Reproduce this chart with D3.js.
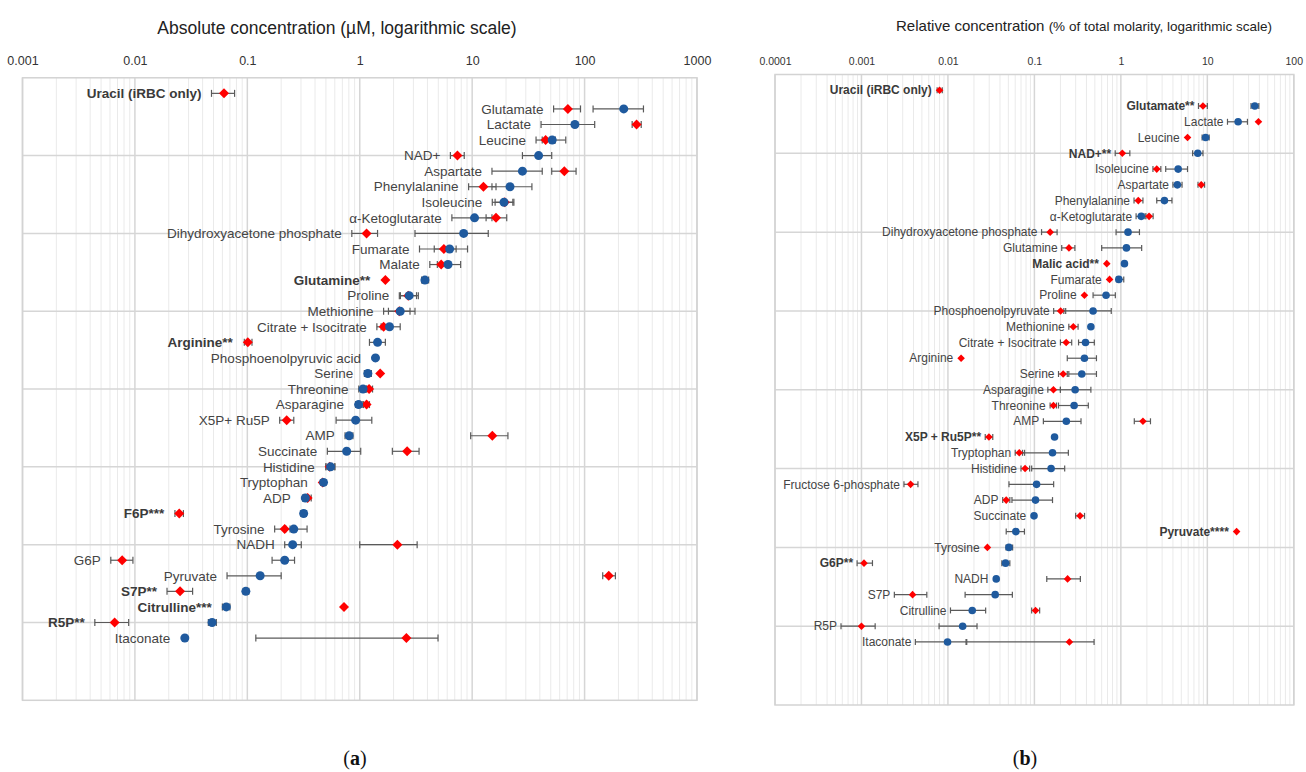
<!DOCTYPE html>
<html><head><meta charset="utf-8">
<script src="https://cdn.jsdelivr.net/npm/d3@7"></script>
<style>body{margin:0;background:#fff}svg{display:block}</style>
</head><body>
<svg id="c" width="1306" height="772"></svg>
<script>
// ---------- Panel (a): absolute concentration (µM) ----------
const aLabels = ["Uracil (iRBC only)","Glutamate","Lactate","Leucine","NAD+","Aspartate","Phenylalanine","Isoleucine","α-Ketoglutarate","Dihydroxyacetone phosphate","Fumarate","Malate","Glutamine**","Proline","Methionine","Citrate + Isocitrate","Arginine**","Phosphoenolpyruvic acid","Serine","Threonine","Asparagine","X5P+ Ru5P","AMP","Succinate","Histidine","Tryptophan","ADP","F6P***","Tyrosine","NADH","G6P","Pyruvate","S7P**","Citrulline***","R5P**","Itaconate"];
const aBold = ["Uracil (iRBC only)","Glutamine**","Arginine**","F6P***","S7P**","Citrulline***","R5P**"];
const aRed   = [0.062,71,290,45,7.4,66,12.6,19.5,16.3,1.15,5.6,5.3,1.69,2.7,2.25,1.63,0.101,null,1.52,1.21,1.15,0.224,15.1,2.64,0.54,0.468,0.344,0.0248,0.215,2.16,0.0077,164,0.0252,0.724,0.0066,2.6];
const aRedLo = [0.048,53,265,37,6.4,51,9.3,16,13.3,0.85,3.4,4.2,null,2.3,1.63,1.42,0.094,null,null,1.14,1.08,0.194,9.7,1.95,0.5,null,0.32,0.0227,0.175,1.0,0.0061,145,0.0193,null,0.0044,0.119];
const aRedHi = [0.077,92,319,55,8.5,84,16.3,23,20.3,1.44,7.2,6.4,null,3.2,2.8,1.85,0.11,null,null,1.3,1.22,0.259,20.8,3.37,0.6,null,0.37,0.027,0.24,3.24,0.0096,188,0.0326,null,0.0088,4.97];
const aBlue   = [null,223,82,51.5,39,28,21.7,19.2,10.5,8.4,6.3,6.1,3.8,2.75,2.29,1.84,1.44,1.38,1.18,1.07,0.977,0.92,0.805,0.765,0.55,0.476,0.328,0.317,0.259,0.253,0.215,0.13,0.097,0.065,0.0486,0.0278];
const aBlueLo = [null,119,41,42,28,15,15,15.1,6.6,3.1,4.6,4.9,3.55,2.25,1.8,1.55,1.22,1.33,1.1,0.98,0.92,0.616,0.74,0.515,0.5,0.45,0.31,0.3,0.22,0.215,0.166,0.066,0.092,0.06,0.045,null];
const aBlueHi = [null,334,123,68,51,42,34,23.5,15,13.9,9.1,7.9,4.1,3.32,3.1,2.29,1.69,1.43,1.27,1.15,1.05,1.28,0.87,1.02,0.6,0.5,0.35,0.335,0.34,0.302,0.263,0.2,0.103,0.07,0.053,null];
const aTicks = [0.001,0.01,0.1,1,10,100,1000];
const aTickLabels = ["0.001","0.01","0.1","1","10","100","1000"];

// ---------- Panel (b): relative concentration (% of total molarity) ----------
const bLabels = ["Uracil (iRBC only)","Glutamate**","Lactate","Leucine","NAD+**","Isoleucine","Aspartate","Phenylalanine","α-Ketoglutarate","Dihydroxyacetone phosphate","Glutamine","Malic acid**","Fumarate","Proline","Phosphoenolpyruvate","Methionine","Citrate + Isocitrate","Arginine","Serine","Asparagine","Threonine","AMP","X5P + Ru5P**","Tryptophan","Histidine","Fructose 6-phosphate","ADP","Succinate","Pyruvate****","Tyrosine","G6P**","NADH","S7P","Citrulline","R5P","Itaconate"];
const bBold = ["Uracil (iRBC only)","Glutamate**","NAD+**","Malic acid**","X5P + Ru5P**","Pyruvate****","G6P**"];
const bLabelOnRed = ["Pyruvate****"];
const bRed   = [0.008,8.9,39,5.9,1.04,2.6,8.5,1.59,2.12,0.152,0.251,0.687,0.74,0.379,0.201,0.282,0.233,0.0142,0.215,0.166,0.166,1.8,0.0298,0.0668,0.078,0.0037,0.0472,0.337,21.8,0.0286,0.00107,0.242,0.0039,0.103,0.001,0.254];
const bRedLo = [0.0075,7.9,null,null,0.86,2.35,7.8,1.42,1.9,0.121,0.207,null,null,null,0.167,0.25,0.2,null,0.19,0.143,0.152,1.43,0.027,0.06,0.07,0.0031,0.043,0.3,null,null,0.00089,0.139,0.0024,0.093,0.00058,0.0165];
const bRedHi = [0.0086,10,null,null,1.27,2.9,9.3,1.8,2.36,0.183,0.294,null,null,null,0.23,0.32,0.27,null,0.24,0.2,0.18,2.2,0.033,0.077,0.088,0.0045,0.052,0.38,null,null,0.00134,0.34,0.0057,0.115,0.00144,0.49];
const bBlue   = [null,35.4,22.7,9.55,7.75,4.6,4.5,3.19,1.72,1.21,1.16,1.1,0.947,0.674,0.477,0.45,0.39,0.379,0.353,0.296,0.288,0.234,0.171,0.162,0.156,0.106,0.103,0.099,0.061,0.0508,0.0464,0.0362,0.0352,0.0191,0.0148,0.0099];
const bBlueLo = [null,32,17.1,8.7,6.76,3.3,4.0,2.6,1.5,0.88,0.6,null,0.89,0.477,0.219,null,0.324,0.24,0.25,0.2,0.19,0.127,null,0.073,0.093,0.0508,0.055,null,0.0472,0.047,0.042,null,0.0158,0.0107,0.0079,0.0042];
const bBlueHi = [null,39.4,29.1,10.5,8.9,5.9,5.1,3.9,1.95,1.64,1.74,null,1.08,0.863,0.774,null,0.493,0.522,0.522,0.45,0.42,0.346,null,0.247,0.224,0.167,0.162,null,0.0767,0.056,0.052,null,0.0556,0.0273,0.0217,0.0162];
const bTicks = [0.0001,0.001,0.01,0.1,1,10,100];
const bTickLabels = ["0.0001","0.001","0.01","0.1","1","10","100"];

const RED = "#ff0000", BLUE = "#1f5a9e", ERR = "#5a5a5a", TXT = "#444";
const svg = d3.select("#c");

function drawPanel(o) {
  const x = d3.scaleLog().domain(o.domain).range(o.xr);
  const y = d3.scaleLinear().domain([0, 40]).range(o.yr);
  const g = svg.append("g");
  const top = y(0), bot = y(40);
  const minors = [];
  for (let e = Math.log10(o.domain[0]); e < Math.log10(o.domain[1]) - 1e-9; e++)
    for (let m = 2; m <= 9; m++) minors.push(m * Math.pow(10, Math.round(e)));
  g.selectAll(".mn").data(minors).join("line")
    .attr("x1", d => x(d)).attr("x2", d => x(d)).attr("y1", top).attr("y2", bot)
    .attr("stroke", "#eaeaea").attr("stroke-width", 1);
  g.selectAll(".mj").data(o.ticks).join("line")
    .attr("x1", d => x(d)).attr("x2", d => x(d)).attr("y1", top).attr("y2", bot)
    .attr("stroke", "#d6d6d6").attr("stroke-width", 1.5);
  g.selectAll(".hz").data([5,10,15,20,25,30,35]).join("line")
    .attr("x1", o.xr[0]).attr("x2", o.xr[1]).attr("y1", d => y(d)).attr("y2", d => y(d))
    .attr("stroke", "#d6d6d6").attr("stroke-width", 1.5);
  g.append("rect").attr("x", o.xr[0]).attr("y", top).attr("width", o.xr[1]-o.xr[0]).attr("height", bot-top)
    .attr("fill", "none").attr("stroke", "#d3d3d3").attr("stroke-width", 1.5);

  const ax = g.append("g").attr("transform", `translate(0,${o.tickY})`)
    .call(d3.axisTop(x).tickValues(o.ticks).tickFormat((d,i)=>o.tickLabels[i]).tickSize(0).tickPadding(0));
  ax.select(".domain").remove();
  ax.selectAll("text").attr("font-family","Liberation Sans, Arial, sans-serif").attr("font-size", o.tickFs).attr("fill","#333");

  const rows = o.labels.map((lab, i) => ({lab, i, r:o.red[i], rl:o.redLo[i], rh:o.redHi[i], b:o.blue[i], bl:o.blueLo[i], bh:o.blueHi[i]}));
  const errs = [];
  rows.forEach(d => {
    if (d.rl != null) errs.push({lo:d.rl, hi:d.rh, i:d.i});
    if (d.bl != null) errs.push({lo:d.bl, hi:d.bh, i:d.i});
  });
  const eg = g.append("g").attr("stroke", ERR).attr("stroke-width", 1.2);
  errs.forEach(e => {
    const yy = y(e.i + 1);
    eg.append("line").attr("x1", x(e.lo)).attr("x2", x(e.hi)).attr("y1", yy).attr("y2", yy);
    eg.append("line").attr("x1", x(e.lo)).attr("x2", x(e.lo)).attr("y1", yy-o.cap).attr("y2", yy+o.cap);
    eg.append("line").attr("x1", x(e.hi)).attr("x2", x(e.hi)).attr("y1", yy-o.cap).attr("y2", yy+o.cap);
  });
  const dm = o.dia;
  g.selectAll(".red").data(rows.filter(d => d.r != null)).join("path")
    .attr("d", d => { const cx = x(d.r), cy = y(d.i+1); return `M${cx},${cy-dm}L${cx+dm},${cy}L${cx},${cy+dm}L${cx-dm},${cy}Z`; })
    .attr("fill", RED);
  g.selectAll(".blue").data(rows.filter(d => d.b != null)).join("circle")
    .attr("cx", d => x(d.b)).attr("cy", d => y(d.i+1)).attr("r", o.rad).attr("fill", BLUE);

  g.selectAll(".lab").data(rows).join("text")
    .attr("x", d => {
      let cands = [];
      if (o.onRed && o.onRed.includes(d.lab)) {
        cands.push(x(d.r) - dm); if (d.rl != null) cands.push(x(d.rl));
      } else {
        if (d.r != null) { cands.push(x(d.r) - dm); if (d.rl != null) cands.push(x(d.rl)); }
        if (d.b != null) { cands.push(x(d.b) - o.rad); if (d.bl != null) cands.push(x(d.bl)); }
      }
      return d3.min(cands) - o.gap;
    })
    .attr("y", d => y(d.i+1)).attr("dy", "0.35em")
    .attr("text-anchor", "end")
    .attr("font-family", "Liberation Sans, Arial, sans-serif")
    .attr("font-size", o.fs)
    .attr("font-weight", d => o.bold.includes(d.lab) ? "bold" : "normal")
    .attr("fill", d => o.bold.includes(d.lab) ? "#3a3a3a" : TXT)
    .text(d => d.lab);
}

drawPanel({domain:[0.001,1000], xr:[22.5,697], yr:[77.8,700.3], ticks:aTicks, tickLabels:aTickLabels,
  tickY:64.5, tickFs:12.5, labels:aLabels, bold:aBold, red:aRed, redLo:aRedLo, redHi:aRedHi,
  blue:aBlue, blueLo:aBlueLo, blueHi:aBlueHi, dia:5, rad:4.5, cap:3.5, fs:13.5, gap:10});
drawPanel({domain:[0.0001,100], xr:[775,1293.8], yr:[74.5,705], ticks:bTicks, tickLabels:bTickLabels,
  tickY:64.5, tickFs:10.5, labels:bLabels, bold:bBold, onRed:bLabelOnRed, red:bRed, redLo:bRedLo, redHi:bRedHi,
  blue:bBlue, blueLo:bBlueLo, blueHi:bBlueHi, dia:3.8, rad:3.8, cap:3, fs:12, gap:4});

svg.append("text").attr("x", 337).attr("y", 34).attr("text-anchor","middle")
  .attr("font-family","Liberation Sans, Arial, sans-serif").attr("font-size",17.5).attr("fill","#222")
  .text("Absolute concentration (µM, logarithmic scale)");
const tb = svg.append("text").attr("x", 1084).attr("y", 31).attr("text-anchor","middle")
  .attr("font-family","Liberation Sans, Arial, sans-serif").attr("fill","#222");
tb.append("tspan").attr("font-size",15).text("Relative concentration ");
tb.append("tspan").attr("font-size",13.5).text("(% of total molarity, logarithmic scale)");

[["a",355],["b",1025]].forEach(([l,xx]) => {
  const t = svg.append("text").attr("x", xx).attr("y", 765).attr("text-anchor","middle")
    .attr("font-family","Liberation Serif, serif").attr("font-size",20).attr("fill","#111");
  t.append("tspan").text("(");
  t.append("tspan").attr("font-weight","bold").text(l);
  t.append("tspan").text(")");
});
</script>
</body></html>
